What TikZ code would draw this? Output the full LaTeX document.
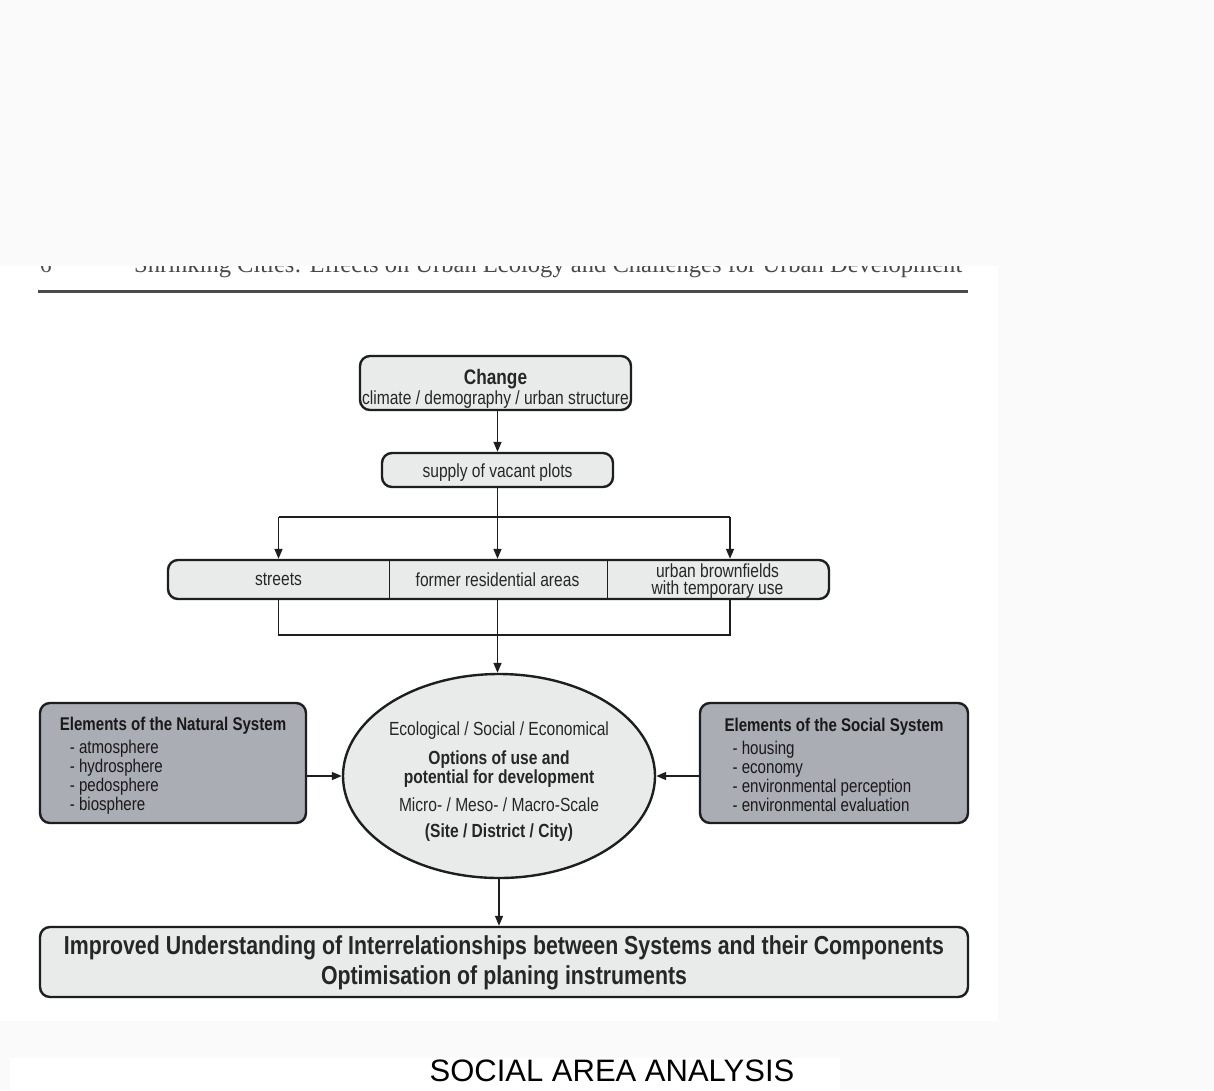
\documentclass[tikz,border=0pt]{standalone}
\usepackage{fontspec}
\setmainfont{Liberation Sans}[FakeStretch=0.82]
\newfontfamily\plainsans{Liberation Sans}
\newfontfamily\headserif{Liberation Serif}
\usetikzlibrary{arrows.meta,shapes.geometric,calc}

\definecolor{paper}{HTML}{FAFAFA}
\definecolor{boxlight}{HTML}{E9EBEB}
\definecolor{boxdark}{HTML}{AAADB4}
\definecolor{ink}{HTML}{262626}
\definecolor{edge}{HTML}{1E1E1E}
\definecolor{headgray}{HTML}{4A4A4A}

\tikzset{
  panel/.style={draw=edge, line width=2.4pt, rounded corners=10pt, fill=boxlight,
    inner sep=0pt},
  syspanel/.style={panel, fill=boxdark},
  caption/.style={inner sep=0pt, align=center, text=ink,
    font=\fontsize{19}{19}\selectfont},
  syscaption/.style={caption, align=left, text=black!90,
    font=\fontsize{18.4}{19}\selectfont},
  cell/.style={inner sep=0pt, minimum height=39pt, align=center, text=ink,
    font=\fontsize{19}{17}\selectfont},
  hub/.style={ellipse, draw=edge, line width=2.4pt, fill=boxlight,
    inner sep=0pt, minimum width=312pt, minimum height=204pt},
  wire/.style={draw=edge, line width=1.5pt},
  arrowwire/.style={wire, -{Triangle[length=10pt,width=8pt]}},
  divider/.style={draw=edge, line width=1.4pt}
}

\begin{document}
\begin{tikzpicture}[x=1pt,y=-1pt]
\useasboundingbox (0,0) rectangle (1214,1090);

% paper background and printed page area
\fill[paper] (0,0) rectangle (1214,1090);
\fill[white] (0,266) rectangle (998,1021);
\fill[white] (10,1058) rectangle (840,1090);

% running head, cut off at the top edge of the page area
\begin{scope}
  \clip (0,266) rectangle (998,300);
  \node[anchor=base west, inner sep=0pt, text=headgray,
        font=\headserif\fontsize{23}{24}\selectfont] (pagenum) at (40,272) {6};
  \node[anchor=base west, inner sep=0pt, text=headgray] (runhead) at (134,272)
    {\resizebox{828pt}{!}{\headserif\fontsize{22}{24}\selectfont Shrinking Cities: Effects on Urban Ecology and Challenges for Urban Development}};
\end{scope}
\draw[line width=3pt, headgray] (38,291) -- (968,291);

% top chain
\node[panel, minimum width=271pt, minimum height=54pt] (change) at (495.5,383) {};
\node[caption] (changeText) at ($(change)+(0,6)$)
  {\textbf{\fontsize{21}{22}\selectfont Change}\\[1pt]climate / demography / urban structure};
\node[panel, minimum width=231pt, minimum height=34pt] (supply) at (497.5,470) {};
\node[caption] (supplyText) at ($(supply)+(0,3)$) {supply of vacant plots};

% three-part strip of plot types
\node[panel, minimum width=661pt, minimum height=39pt] (strip) at (498.5,579.5) {};
\node[cell, minimum width=221pt] (streets) at (278.5,579.5) {streets};
\node[cell, minimum width=219pt] (former) at (497.5,579.5) {former residential areas};
\node[cell, minimum width=221pt] (brown) at (717.5,581) {urban brownfields\\with temporary use};
\draw[divider] (streets.north east) -- (streets.south east);
\draw[divider] (former.north east) -- (former.south east);

% central ellipse
\node[hub] (core) at (499,776) {};
\node[caption, font=\fontsize{19}{17}\selectfont] (coreText) at ($(core)+(0,6)$)
  {Ecological / Social / Economical\\[10pt]
   \textbf{Options of use and}\\\textbf{potential for development}\\[10pt]
   Micro- / Meso- / Macro-Scale\\[9pt]
   \textbf{(Site / District / City)}};

% side systems
\node[syspanel, minimum width=266pt, minimum height=120pt] (natural) at (173,763) {};
\node[syscaption] (naturalText) at ($(natural)+(0,3)$)
  {\textbf{Elements of the Natural System}\\[4pt]
   \hspace*{10pt}- atmosphere\\
   \hspace*{10pt}- hydrosphere\\
   \hspace*{10pt}- pedosphere\\
   \hspace*{10pt}- biosphere};
\node[syspanel, minimum width=268pt, minimum height=120pt] (social) at (834,763) {};
\node[syscaption] (socialText) at ($(social)+(0,2)$)
  {\textbf{Elements of the Social System}\\[4pt]
   \hspace*{8pt}- housing\\
   \hspace*{8pt}- economy\\
   \hspace*{8pt}- environmental perception\\
   \hspace*{8pt}- environmental evaluation};

% outcome
\node[panel, minimum width=928pt, minimum height=70pt] (outcome) at (504,962) {};
\node[caption, font=\bfseries\fontsize{26}{30}\selectfont] (outcomeText) at ($(outcome)+(0,1)$)
  {Improved Understanding of Interrelationships between Systems and their Components\\
   Optimisation of planing instruments};

% caption below the page
\node[anchor=base, inner sep=0pt, text=black,
      font=\plainsans\fontsize{31}{36}\selectfont] (title) at (612,1081)
  {SOCIAL AREA ANALYSIS};

% taps and bus levels
\coordinate (tapTop) at ($(brown.north)+(12.5,0)$);
\coordinate (tapBot) at ($(brown.south)+(12.5,0)$);
\coordinate (splitLevel) at (497.5,517);
\coordinate (joinLevel) at (497.5,635);

% connectors
\draw[arrowwire] (change.south -| supply.north) -- (supply.north);
\draw[arrowwire] (supply.south) -- (supply.south |- strip.north);
\draw[wire] (streets.north |- splitLevel) -- (tapTop |- splitLevel);
\draw[arrowwire] (streets.north |- splitLevel) -- (streets.north |- strip.north);
\draw[arrowwire] (tapTop |- splitLevel) -- (tapTop |- strip.north);
\draw[wire] (streets.south |- strip.south) -- (streets.south |- joinLevel)
  -- (tapBot |- joinLevel) -- (tapBot |- strip.south);
\draw[arrowwire] (former.south |- strip.south) -- (former.south |- core.north);
\draw[arrowwire] (natural.east |- core.west) -- (core.west);
\draw[arrowwire] (social.west |- core.east) -- (core.east);
\draw[arrowwire] (core.south) -- (core.south |- outcome.north);
\end{tikzpicture}
\end{document}
